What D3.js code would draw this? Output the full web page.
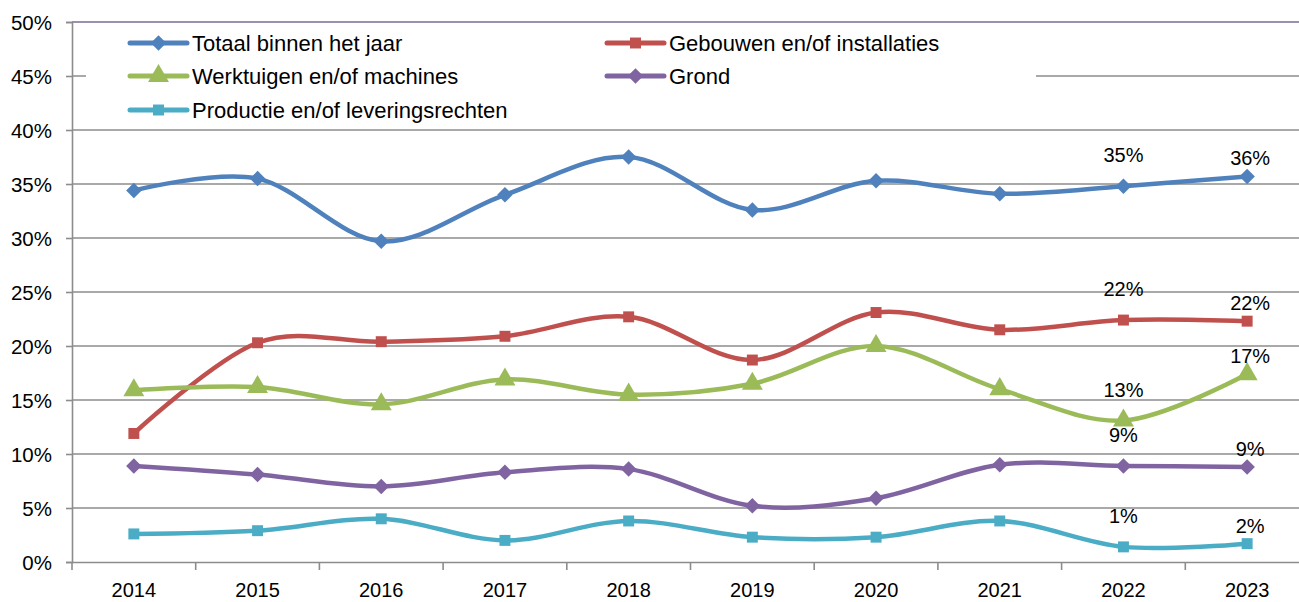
<!DOCTYPE html>
<html><head><meta charset="utf-8">
<script src="https://cdn.jsdelivr.net/npm/d3@7"></script>
<style>body{margin:0;background:#fff}svg{display:block}text{font-family:"Liberation Sans",Arial,sans-serif;fill:#000}</style>
</head><body><svg id="c" width="1299" height="602"></svg>
<script>
const years = ["2014","2015","2016","2017","2018","2019","2020","2021","2022","2023"];
const seriesNames = ["Totaal binnen het jaar","Gebouwen en/of installaties","Werktuigen en/of machines","Grond","Productie en/of leveringsrechten"];
const totaal     = [34.4,35.5,29.7,34.0,37.5,32.6,35.3,34.1,34.8,35.7];
const gebouwen   = [11.9,20.3,20.4,20.9,22.7,18.7,23.1,21.5,22.4,22.3];
const werktuigen = [15.9,16.2,14.6,16.9,15.5,16.5,20.0,16.0,13.1,17.4];
const grond      = [8.9,8.1,7.0,8.3,8.6,5.2,5.9,9.0,8.9,8.8];
const productie  = [2.6,2.9,4.0,2.0,3.8,2.3,2.3,3.8,1.4,1.7];
const yTicks = [0,5,10,15,20,25,30,35,40,45,50];
const labelYears = ["2022","2023"];

(function(){
const colors = ["#4F81BD","#C0504D","#9BBB59","#8064A2","#4BACC6"];
const diamond = { draw(ctx, size){ const r = Math.sqrt(size/2); ctx.moveTo(0,-r); ctx.lineTo(r,0); ctx.lineTo(0,r); ctx.lineTo(-r,0); ctx.closePath(); } };
const markers = [diamond, d3.symbolSquare, d3.symbolTriangle, diamond, d3.symbolSquare];
const markerSize = [120,120,190,120,120];
const allSeries = [totaal,gebouwen,werktuigen,grond,productie];

const svg = d3.select("#c");
const left = 72, bottom = 562, topY = 22, step = 123.7;
const x = d3.scaleBand().domain(years).range([left, left + step*years.length]).paddingInner(0).paddingOuter(0);
const y = d3.scaleLinear().domain([0,50]).range([bottom, topY]);
const cx = d => x(d) + x.bandwidth()/2;

// gridlines
svg.append("g").selectAll("line").data(yTicks.filter(t=>t>0)).join("line")
  .attr("x1", left).attr("x2", 1299).attr("y1", d=>y(d)).attr("y2", d=>y(d))
  .attr("stroke", d=> d===50 ? "#7d6a99" : "#8c8c8c").attr("stroke-width", 1.6);

// y axis
const yAxis = d3.axisLeft(y).tickValues(yTicks).tickSize(6).tickPadding(14).tickFormat(d=>d+"%");
const gy = svg.append("g").attr("transform",`translate(${left},0)`).call(yAxis);
gy.select(".domain").attr("stroke","#8c8c8c").attr("stroke-width",1.6);
gy.selectAll(".tick line").attr("stroke","#8c8c8c").attr("stroke-width",1.6);
gy.selectAll(".tick text").style("font-size","20.5px").attr("dy","0.35em");

// x axis
const xAxis = d3.axisBottom(x).tickSize(0).tickPadding(21);
const gx = svg.append("g").attr("transform",`translate(0,${bottom})`).call(xAxis);
gx.select(".domain").attr("stroke","#8c8c8c").attr("stroke-width",1.6);
gx.selectAll(".tick text").style("font-size","20px");
svg.append("g").selectAll("line").data(years.concat(["end"])).join("line")
  .attr("x1",(d,i)=>left+i*x.bandwidth()).attr("x2",(d,i)=>left+i*x.bandwidth())
  .attr("y1",bottom).attr("y2",bottom+8).attr("stroke","#8c8c8c").attr("stroke-width",1.6);

// lines
const line = d3.line().x((d,i)=>cx(years[i])).y(d=>y(d)).curve(d3.curveCardinal.tension(0));
allSeries.forEach((s,k)=>{
  svg.append("path").datum(s).attr("d",line).attr("fill","none")
    .attr("stroke",colors[k]).attr("stroke-width",4.5).attr("stroke-linejoin","round");
});
allSeries.forEach((s,k)=>{
  svg.append("g").selectAll("path").data(s).join("path")
    .attr("transform",(d,i)=>`translate(${cx(years[i])},${y(d)})`)
    .attr("d",d3.symbol().type(markers[k]).size(markerSize[k]))
    .attr("fill",colors[k]);
});

// data labels
const labelDy = {"2022":-31,"2023":-18};
allSeries.forEach((s,k)=>{
  labelYears.forEach(yr=>{
    const i = years.indexOf(yr);
    svg.append("text").attr("x",cx(yr)+(yr==="2023"?3:0)).attr("y",y(s[i])+labelDy[yr])
      .attr("text-anchor","middle").attr("dy","0.35em").style("font-size","20px")
      .text(Math.round(s[i])+"%");
  });
});

// legend
svg.append("rect").attr("x",86).attr("y",30).attr("width",950).attr("height",94).attr("fill","#fff");
const legPos = [[130,43],[607,43],[130,76],[607,76],[130,110]];
seriesNames.forEach((n,k)=>{
  const [lx,ly] = legPos[k];
  const g = svg.append("g").attr("transform",`translate(${lx},${ly})`);
  g.append("line").attr("x1",0).attr("x2",57).attr("y1",0).attr("y2",0)
    .attr("stroke",colors[k]).attr("stroke-width",5).attr("stroke-linecap","round");
  g.append("path").attr("transform","translate(28.5,0)")
    .attr("d",d3.symbol().type(markers[k]).size(markerSize[k])).attr("fill",colors[k]);
  g.append("text").attr("x",62).attr("dy","0.35em").style("font-size","22px").text(n);
});
})();
</script></body></html>
